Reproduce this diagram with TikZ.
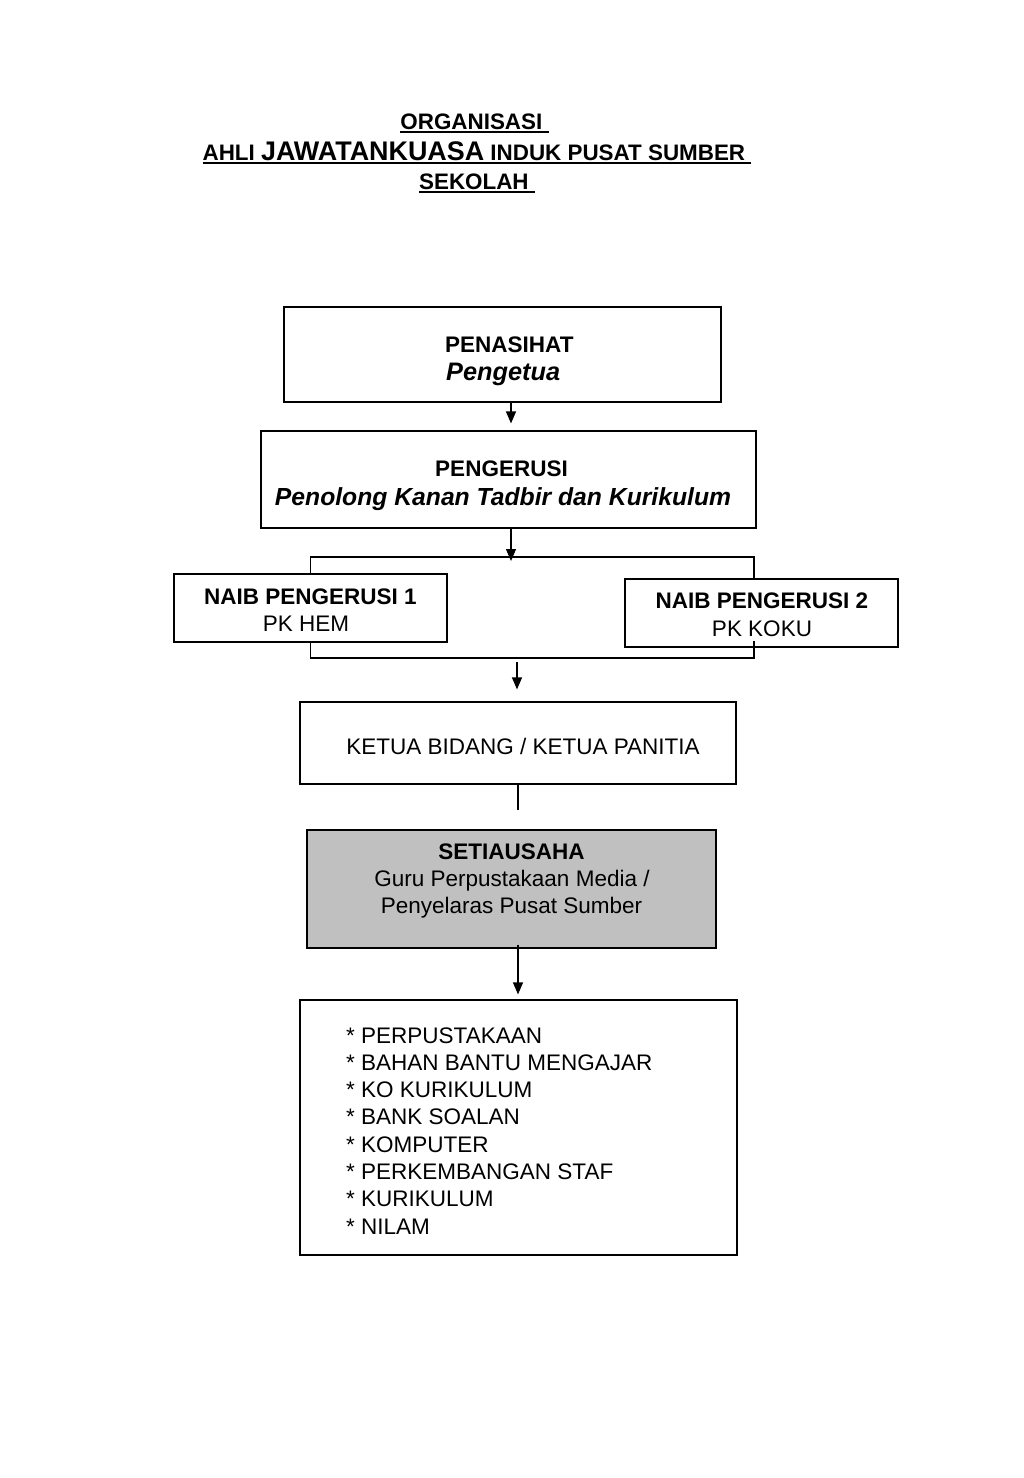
\documentclass[tikz,border=0pt]{standalone}
\usepackage{fontspec}
\setmainfont{Liberation Sans}
\usetikzlibrary{arrows.meta,calc}
\newcommand\myul[1]{\setbox0\hbox{#1}\rlap{\rule[-3.5pt]{\wd0}{1.6pt}}\box0}
\begin{document}
\begin{tikzpicture}[x=1pt,y=-1pt,
  box/.style={draw=black, line width=1.2pt, inner sep=0pt, rectangle},
  txt/.style={font=\fontsize{22.5}{27}\selectfont, inner sep=0pt},
  ttl/.style={font=\fontsize{22.4}{26}\selectfont\bfseries, inner sep=0pt},
  conn/.style={line width=1.2pt},
  arr/.style={line width=1.2pt, -{Triangle[length=12pt,width=10pt]}}]
\useasboundingbox[fill=white] (0,0) rectangle (1024,1478);

% title
\node[ttl, anchor=base] (t1) at (474.5,129) {\myul{ORGANISASI\ }};
\node[ttl, anchor=base] (t2) at (477,160) {\myul{AHLI {\fontsize{26.9}{30}\selectfont JAWATANKUASA} INDUK PUSAT SUMBER\ }};
\node[ttl, anchor=base] (t3) at (477,189) {\myul{SEKOLAH\ }};

% boxes
\node[box, minimum width=437pt, minimum height=95pt] (pen) at (502.5,354.5) {};
\node[box, minimum width=495pt, minimum height=97pt] (ger) at (508.5,479.5) {};
\node[box, minimum width=273pt, minimum height=68pt] (n1) at (310.5,608) {};
\node[box, minimum width=273pt, minimum height=68pt] (n2) at (761.5,613) {};
\node[box, minimum width=436pt, minimum height=82pt] (ket) at (518,743) {};
\node[box, fill={rgb,255:red,192;green,192;blue,192}, minimum width=409pt, minimum height=118pt] (set) at (511.5,889) {};
\node[box, minimum width=437pt, minimum height=255pt] (lst) at (518.5,1127.5) {};

% texts
\node[txt, anchor=base west, font=\fontsize{22.5}{27}\selectfont\bfseries] (pen1) at (445,352) {PENASIHAT};
\node[txt, anchor=base west, font=\fontsize{25.3}{27}\selectfont\bfseries\itshape] (pen2) at (446,380) {Pengetua};
\node[txt, anchor=base, font=\fontsize{22.5}{27}\selectfont\bfseries] (ger1) at (501.5,476) {PENGERUSI};
\node[txt, anchor=base, font=\fontsize{24.7}{27}\selectfont\bfseries\itshape] (ger2) at (503,505) {Penolong Kanan Tadbir dan Kurikulum};
\node[txt, anchor=base, font=\fontsize{22.5}{27}\selectfont\bfseries] (na1) at (310.5,604) {NAIB PENGERUSI 1};
\node[txt, anchor=base] (na2) at (306,631) {PK HEM};
\node[txt, anchor=base, font=\fontsize{22.5}{27}\selectfont\bfseries] (nb1) at (762,608) {NAIB PENGERUSI 2};
\node[txt, anchor=base] (nb2) at (762,636) {PK KOKU};
\node[txt, anchor=base] (k1) at (523,754) {KETUA BIDANG / KETUA PANITIA};
\node[txt, anchor=base, font=\fontsize{22.5}{27}\selectfont\bfseries] (s1) at (511.5,859) {SETIAUSAHA};
\node[txt, anchor=base] (s2) at (512,886) {Guru Perpustakaan Media /};
\node[txt, anchor=base] (s3) at (511.5,913) {Penyelaras Pusat Sumber};
\foreach \t [count=\i from 0] in {PERPUSTAKAAN, BAHAN BANTU MENGAJAR, KO KURIKULUM, BANK SOALAN, KOMPUTER, PERKEMBANGAN STAF, KURIKULUM, NILAM}
  \node[txt, anchor=base west] (l\i) at (346,{1043+27.3*\i}) {* \t};

% connectors
\coordinate (c1) at (511,0);
\coordinate (topbar) at (511,557);
\coordinate (botbar) at (517,658);
\coordinate (c3) at (518,810);
\draw[arr, shorten >=7pt] (c1 |- pen.south) -- (c1 |- ger.north);
\draw[conn] (n1.north) |- (topbar) -| ([xshift=-7.5pt]n2.north);
\draw[arr] (c1 |- ger.south) -- ([yshift=-4pt]topbar);
\draw[conn] (n1.south) |- (botbar) -| ([xshift=-7.5pt,yshift=7pt]n2.south);
\draw[arr, shorten >=12pt] ([yshift=-4pt]botbar) -- (botbar |- ket.north);
\draw[conn] (c3 |- ket.south) -- (c3);
\draw[arr, shorten >=5pt] ([yshift=4pt]c3 |- set.south) -- (c3 |- lst.north);
\end{tikzpicture}
\end{document}
